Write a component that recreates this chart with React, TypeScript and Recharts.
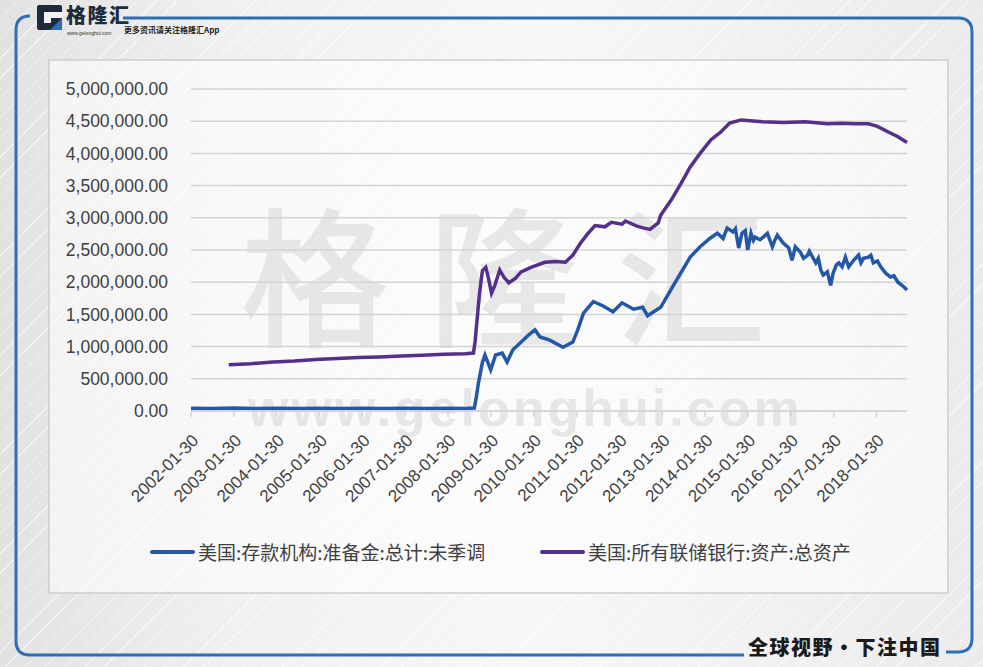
import { CartesianGrid, Line, LineChart, XAxis, YAxis } from 'recharts';

const BLUE = '#2457a6';
const PURPLE = '#55308a';
const GRID = '#d4d4d4';
const TEXT = '#404040';

// 美国:存款机构:准备金:总计:未季调
const reserveDates = [
  '2002-01-30', '2002-07-31', '2003-01-29', '2003-07-30', '2004-01-28', '2004-07-28',
  '2005-01-26', '2005-07-27', '2006-01-25', '2006-07-26', '2007-01-31', '2007-07-25',
  '2008-01-30', '2008-06-25', '2008-09-10', '2008-09-24', '2008-10-15', '2008-11-19',
  '2008-12-10', '2009-01-28', '2009-03-11', '2009-05-06', '2009-06-17', '2009-08-05',
  '2009-11-18', '2009-12-16', '2010-02-10', '2010-03-24', '2010-06-16', '2010-10-06',
  '2010-12-29', '2011-02-09', '2011-03-30', '2011-06-22', '2011-09-14', '2011-12-07',
  '2012-02-22', '2012-05-30', '2012-08-15', '2012-09-26', '2013-01-16', '2013-05-01',
  '2013-09-25', '2013-12-18', '2014-03-19', '2014-05-14', '2014-07-02', '2014-08-06',
  '2014-09-24', '2014-10-15', '2014-11-12', '2014-12-10', '2015-01-07', '2015-01-28',
  '2015-02-25', '2015-03-18', '2015-04-01', '2015-05-13', '2015-06-10', '2015-07-15',
  '2015-08-26', '2015-09-16', '2015-10-07', '2015-11-25', '2016-01-13', '2016-02-10',
  '2016-03-09', '2016-04-20', '2016-05-18', '2016-06-22', '2016-07-06', '2016-08-03',
  '2016-08-31', '2016-09-21', '2016-10-12', '2016-11-02', '2016-12-07', '2017-01-04',
  '2017-01-25', '2017-02-22', '2017-03-15', '2017-04-12', '2017-05-10', '2017-06-07',
  '2017-07-19', '2017-08-30', '2017-09-20', '2017-10-11', '2017-11-22', '2017-12-13',
  '2018-01-03', '2018-02-07', '2018-03-07', '2018-04-18', '2018-05-30', '2018-06-27',
  '2018-08-01', '2018-09-19', '2018-10-17',
];
const reserveValues = [
  42000, 38000, 45000, 40000, 44000, 40000,
  43000, 38000, 42000, 39000, 41000, 37000,
  43000, 40000, 45000, 180000, 430000, 760000,
  870000, 640000, 870000, 900000, 760000, 950000,
  1130000, 1180000, 1260000, 1150000, 1100000, 990000,
  1070000, 1260000, 1520000, 1700000, 1630000, 1540000,
  1680000, 1580000, 1610000, 1480000, 1610000, 1940000,
  2390000, 2550000, 2690000, 2760000, 2680000, 2840000,
  2780000, 2830000, 2530000, 2760000, 2800000, 2500000,
  2760000, 2650000, 2700000, 2660000, 2700000, 2760000,
  2550000, 2650000, 2730000, 2610000, 2530000, 2340000,
  2550000, 2470000, 2370000, 2420000, 2480000, 2390000,
  2300000, 2370000, 2190000, 2110000, 2160000, 1950000,
  2140000, 2270000, 2300000, 2240000, 2390000, 2240000,
  2340000, 2420000, 2300000, 2370000, 2390000, 2420000,
  2300000, 2330000, 2240000, 2140000, 2080000, 2100000,
  2000000, 1930000, 1880000,
];

// 美国:所有联储银行:资产:总资产
const assetDates = [
  '2002-12-18', '2003-06-25', '2003-12-31', '2004-06-30', '2004-12-29', '2005-06-29',
  '2005-12-28', '2006-06-28', '2006-12-27', '2007-06-27', '2007-12-26', '2008-03-26',
  '2008-06-25', '2008-09-03', '2008-09-17', '2008-09-24', '2008-10-08', '2008-10-22',
  '2008-11-05', '2008-11-19', '2008-12-17', '2009-01-07', '2009-02-04', '2009-03-04',
  '2009-04-15', '2009-05-20', '2009-07-01', '2009-08-26', '2009-10-14', '2010-01-06',
  '2010-05-05', '2010-08-04', '2010-10-27', '2010-12-29', '2011-03-02', '2011-05-04',
  '2011-07-06', '2011-09-28', '2011-11-23', '2012-02-22', '2012-03-21', '2012-06-27',
  '2012-08-29', '2012-10-17', '2012-12-26', '2013-01-16', '2013-04-17', '2013-07-10',
  '2013-09-25', '2013-12-18', '2014-03-19', '2014-06-11', '2014-08-27', '2014-12-03',
  '2015-06-03', '2015-12-02', '2016-06-01', '2016-12-07', '2017-04-05', '2017-08-02',
  '2017-11-22', '2018-02-07', '2018-05-02', '2018-08-01', '2018-10-17',
];
const assetValues = [
  720000, 735000, 760000, 775000, 800000, 815000,
  830000, 840000, 855000, 865000, 880000, 885000,
  890000, 900000, 1080000, 1220000, 1500000, 1780000,
  2000000, 2180000, 2230000, 2080000, 1830000, 1950000,
  2190000, 2080000, 1990000, 2060000, 2160000, 2230000,
  2310000, 2320000, 2310000, 2420000, 2600000, 2750000,
  2880000, 2860000, 2930000, 2900000, 2950000, 2870000,
  2840000, 2820000, 2920000, 3040000, 3280000, 3540000,
  3790000, 4000000, 4210000, 4330000, 4470000, 4520000,
  4490000, 4480000, 4490000, 4460000, 4470000, 4460000,
  4460000, 4420000, 4340000, 4260000, 4170000,
];

const tickYears = [
  '2002', '2003', '2004', '2005', '2006', '2007', '2008', '2009', '2010',
  '2011', '2012', '2013', '2014', '2015', '2016', '2017', '2018',
];
const yTicks = [0, 500000, 1000000, 1500000, 2000000, 2500000, 3000000, 3500000, 4000000, 4500000, 5000000];

const reserveData = reserveDates.map((d, i) => ({ t: Date.parse(d), v: reserveValues[i] }));
const assetData = assetDates.map((d, i) => ({ t: Date.parse(d), v: assetValues[i] }));
const xTicks = tickYears.map((y) => Date.parse(`${y}-01-30`));
const X_START = Date.parse('2002-01-30');
const X_END = Date.parse('2018-10-17');

const fmtY = (v: number) =>
  v.toLocaleString('en-US', { minimumFractionDigits: 2, maximumFractionDigits: 2 });
const fmtX = (v: number) => new Date(v).toISOString().slice(0, 10);

const CJK = '"Noto Sans CJK SC", "Noto Sans", sans-serif';

function Logo() {
  return (
    <div style={{ position: 'absolute', left: 37, top: 5 }}>
      <svg width={26} height={26} style={{ position: 'absolute', left: 0, top: 0 }}>
        <rect x={0} y={0} width={25} height={25} rx={2} fill="#1e2b3a" />
        <rect x={7} y={7} width={18} height={6} fill="#f2f2f2" />
        <rect x={7} y={13} width={7} height={5} fill="#f2f2f2" />
        <polygon points="13,25 25,13 25,25" fill="#2f6db5" />
      </svg>
      <div
        style={{
          position: 'absolute', left: 29, top: -1, fontFamily: CJK, fontWeight: 900,
          fontSize: 20, lineHeight: '22px', color: '#1e2b3a', whiteSpace: 'nowrap', letterSpacing: 1.5,
        }}
      >
        格隆汇
      </div>
      <div
        style={{
          position: 'absolute', left: 30, top: 25, fontFamily: 'Liberation Sans', fontSize: 5,
          lineHeight: '6px', color: '#333', whiteSpace: 'nowrap',
        }}
      >
        www.gelonghui.com
      </div>
      <div
        style={{
          position: 'absolute', left: 87, top: 20, fontFamily: CJK, fontWeight: 700, fontSize: 8,
          lineHeight: '10px', color: '#222', whiteSpace: 'nowrap',
        }}
      >
        更多资讯请关注格隆汇App
      </div>
    </div>
  );
}

function Frame() {
  return (
    <svg width={983} height={667} style={{ position: 'absolute', left: 0, top: 0 }}>
      <path d="M 30 16 Q 16 16 16 30 L 16 641 Q 16 655 30 655 L 744 655" stroke="#2f6db5" strokeWidth={3} fill="none" />
      <path d="M 123 18 L 958 18 Q 972 18 972 32 L 972 638 Q 972 652 958 652 L 946 652" stroke="#2f6db5" strokeWidth={3} fill="none" />
      <rect x={49} y={60} width={899} height={533} fill="rgba(255,255,255,0.55)" stroke="#cdcdcd" strokeWidth={1.5} />
    </svg>
  );
}

function Watermark() {
  return (
    <>
      <div
        style={{
          position: 'absolute', left: 240, top: 180, fontFamily: CJK, fontWeight: 500, fontSize: 150,
          color: 'rgba(190,190,190,0.33)', letterSpacing: 38, whiteSpace: 'nowrap', lineHeight: 1.2,
        }}
      >
        格隆汇
      </div>
      <div
        style={{
          position: 'absolute', left: 248, top: 378, fontFamily: 'Liberation Sans', fontWeight: 700,
          fontSize: 52, color: 'rgba(200,200,200,0.4)', letterSpacing: 3, whiteSpace: 'nowrap',
        }}
      >
        www.gelonghui.com
      </div>
    </>
  );
}

function LegendItem({ left, color, label }: { left: number; color: string; label: string }) {
  return (
    <div style={{ position: 'absolute', left, top: 538, display: 'flex', alignItems: 'center', whiteSpace: 'nowrap' }}>
      <span style={{ width: 45, height: 4, background: color, borderRadius: 2, display: 'inline-block' }} />
      <span style={{ marginLeft: 3, fontFamily: CJK, fontSize: 19, color: TEXT }}>{label}</span>
    </div>
  );
}

export default function App() {
  return (
    <div
      style={{
        position: 'fixed', left: 0, top: 0, width: 983, height: 667, overflow: 'hidden',
        background:
          'repeating-linear-gradient(135deg, rgba(255,255,255,0) 0px, rgba(255,255,255,0) 13px, rgba(255,255,255,0.55) 13px, rgba(255,255,255,0.55) 14px), linear-gradient(90deg, #e2e2e2 0%, #f1f1f1 25%, #f7f7f7 55%, #ebebeb 100%)',
      }}
    >
      <Frame />
      <Logo />
      <Watermark />
      <div style={{ position: 'absolute', left: 0, top: 0 }}>
        <LineChart width={983} height={667} margin={{ top: 89, right: 76, bottom: 156, left: 0 }}>
          <CartesianGrid horizontal vertical={false} stroke={GRID} strokeWidth={1.5} />
          <XAxis
            type="number"
            dataKey="t"
            domain={[X_START, X_END]}
            ticks={xTicks}
            tickFormatter={fmtX}
            interval={0}
            angle={-45}
            textAnchor="end"
            height={100}
            tickSize={6}
            tickMargin={16}
            axisLine={{ stroke: GRID, strokeWidth: 1.5 }}
            tickLine={{ stroke: GRID, strokeWidth: 1.5 }}
            tick={{ fontSize: 17, fill: TEXT, fontFamily: 'Liberation Sans' }}
          />
          <YAxis
            type="number"
            domain={[0, 5000000]}
            ticks={yTicks}
            tickFormatter={fmtY}
            interval={0}
            width={191}
            axisLine={false}
            tickLine={false}
            tickSize={0}
            tickMargin={23}
            tick={{ fontSize: 17.5, fill: TEXT, fontFamily: 'Liberation Sans' }}
          />
          <Line
            data={reserveData}
            dataKey="v"
            type="linear"
            stroke={BLUE}
            strokeWidth={3.5}
            dot={false}
            isAnimationActive={false}
          />
          <Line
            data={assetData}
            dataKey="v"
            type="linear"
            stroke={PURPLE}
            strokeWidth={3.5}
            dot={false}
            isAnimationActive={false}
          />
        </LineChart>
      </div>
      <LegendItem left={150} color={BLUE} label="美国:存款机构:准备金:总计:未季调" />
      <LegendItem left={540} color={PURPLE} label="美国:所有联储银行:资产:总资产" />
      <div
        style={{
          position: 'absolute', left: 748, top: 634, fontFamily: CJK, fontWeight: 900, fontSize: 20,
          color: '#1a1a1a', whiteSpace: 'nowrap', letterSpacing: 1.5, lineHeight: '26px',
        }}
      >
        全球视野・下注中国
      </div>
    </div>
  );
}
